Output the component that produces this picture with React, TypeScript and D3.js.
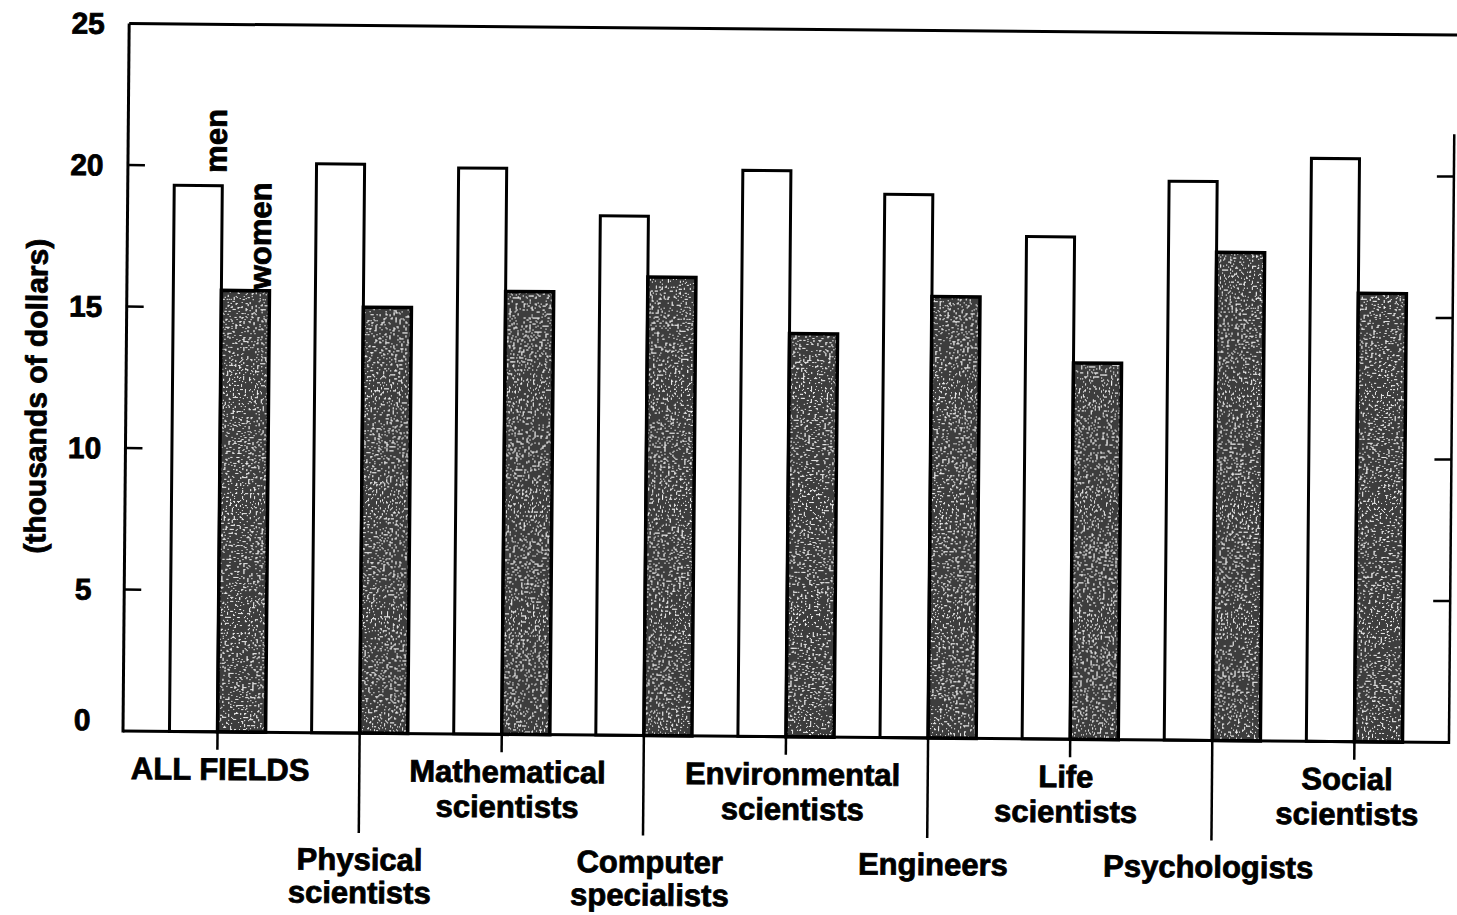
import React from "react";
import * as d3 from "d3";

const categories = [
  "ALL FIELDS",
  "Physical scientists",
  "Mathematical scientists",
  "Computer specialists",
  "Environmental scientists",
  "Engineers",
  "Life scientists",
  "Psychologists",
  "Social scientists",
];
const categoryLines = [
  ["ALL FIELDS"],
  ["Physical", "scientists"],
  ["Mathematical", "scientists"],
  ["Computer", "specialists"],
  ["Environmental", "scientists"],
  ["Engineers"],
  ["Life", "scientists"],
  ["Psychologists"],
  ["Social", "scientists"],
];
const series = ["men", "women"];
const menValues = [19.3, 20.1, 20.0, 18.35, 20.0, 19.2, 17.75, 19.75, 20.6];
const womenValues = [15.6, 15.05, 15.65, 16.2, 14.25, 15.6, 13.3, 17.25, 15.85];
const yTicks = [0, 5, 10, 15, 20, 25];
const yTitle = "(thousands of dollars)";

// small horizontal nudges of the category labels (layout only)
const labelNudge = [3, 1, 6, 7, 7, 6, -4, -3, -7];

const W = 1457;
const H = 915;
const FONT = "'Liberation Sans', Arial, Helvetica, sans-serif";

export default function App() {
  const left = 123;
  const right = 1449;
  const x0 = 731;
  const top = 23.5;

  const x = d3
    .scaleBand<string>()
    .domain(categories)
    .range([left, right])
    .paddingInner(0.3235)
    .paddingOuter(0.327);
  const xs = d3.scaleBand<string>().domain(series).range([0, x.bandwidth()]);
  const y = d3.scaleLinear().domain([0, 25]).range([x0, top]);

  const tickLen = 17;
  const txtStroke = { stroke: "#000", strokeWidth: 0.8 };
  const table = "0.05 0.05 0.05 0.05 0.05 0.05 0.75 0.95 1 1";

  return (
    <svg
      width={W}
      height={H}
      style={{ position: "absolute", left: 0, top: 0, background: "#fff" }}
      fontFamily={FONT}
      fontWeight="bold"
    >
      <defs>
        <filter id="speckle" x="0" y="0" width="1" height="1">
          <feTurbulence type="fractalNoise" baseFrequency="0.5" numOctaves="2" seed="7" result="n" />
          <feColorMatrix in="n" type="saturate" values="0" result="g" />
          <feComponentTransfer in="g" result="t">
            <feFuncR type="discrete" tableValues={table} />
            <feFuncG type="discrete" tableValues={table} />
            <feFuncB type="discrete" tableValues={table} />
            <feFuncA type="linear" slope="0" intercept="1" />
          </feComponentTransfer>
          <feComposite in="t" in2="SourceGraphic" operator="in" />
        </filter>
      </defs>
      <g transform={`rotate(0.5 ${left} ${x0})`}>
        {/* bars */}
        {categories.map((c, i) => {
          const gx = x(c)!;
          const mx = gx + xs("men")!;
          const wx = gx + xs("women")!;
          const bw = xs.bandwidth();
          return (
            <g key={c}>
              <rect
                x={mx}
                y={y(menValues[i])}
                width={bw}
                height={x0 - y(menValues[i])}
                fill="#fff"
                stroke="#000"
                strokeWidth={3}
              />
              <rect
                x={wx}
                y={y(womenValues[i])}
                width={bw}
                height={x0 - y(womenValues[i])}
                fill="#333"
                filter="url(#speckle)"
              />
              <rect
                x={wx}
                y={y(womenValues[i])}
                width={bw}
                height={x0 - y(womenValues[i])}
                fill="none"
                stroke="#000"
                strokeWidth={3.5}
              />
            </g>
          );
        })}

        {/* frame */}
        <line x1={left} x2={left} y1={x0 + 1.5} y2={top} stroke="#000" strokeWidth={3} />
        <line x1={left} x2={W + 20} y1={top} y2={top} stroke="#000" strokeWidth={3} />
        <line x1={left} x2={right} y1={x0} y2={x0} stroke="#000" strokeWidth={3} />
        <line x1={right} x2={right} y1={x0 + 1.5} y2={y(21.5)} stroke="#000" strokeWidth={2.5} />

        {/* ticks */}
        {yTicks
          .filter((t) => t > 0 && t < 25)
          .map((t) => (
            <g key={t}>
              <line x1={left} x2={left + tickLen} y1={y(t)} y2={y(t)} stroke="#000" strokeWidth={2.5} />
              <line x1={right - tickLen} x2={right} y1={y(t)} y2={y(t)} stroke="#000" strokeWidth={2.5} />
            </g>
          ))}
        {yTicks.map((t) => (
          <text
            key={t}
            x={82}
            y={t === 0 ? y(t) - 11 : y(t)}
            textAnchor="middle"
            dominantBaseline="central"
            fontSize={30}
            fill="#000"
            {...txtStroke}
          >
            {t}
          </text>
        ))}

        {/* y title */}
        <text
          transform={`translate(33 ${397}) rotate(-90)`}
          textAnchor="middle"
          dominantBaseline="central"
          fontSize={30}
          fill="#000"
          {...txtStroke}
        >
          {yTitle}
        </text>

        {/* legend labels */}
        <text
          transform={`translate(${x(categories[0])! + xs("men")! + xs.bandwidth() + 4} 172) rotate(-90)`}
          fontSize={31}
          fill="#000"
          {...txtStroke}
        >
          {series[0]}
        </text>
        <text
          transform={`translate(${x(categories[0])! + xs("women")! + xs.bandwidth() + 1} 288) rotate(-90)`}
          fontSize={31}
          fill="#000"
          {...txtStroke}
        >
          {series[1]}
        </text>

        {/* category labels */}
        {categories.map((c, i) => {
          const cx = x(c)! + xs.bandwidth();
          const lower = i % 2 === 1;
          const lineEnd = lower ? x0 + 100 : x0 + 18;
          const firstBase = lower ? 868 : 779;
          return (
            <g key={c}>
              <line x1={cx} x2={cx} y1={x0} y2={lineEnd} stroke="#000" strokeWidth={2.5} />
              {categoryLines[i].map((ln, k) => (
                <text
                  key={k}
                  x={cx + labelNudge[i]}
                  y={firstBase + k * (lower ? 33 : 35)}
                  textAnchor="middle"
                  fontSize={31}
                  fill="#000"
                  {...txtStroke}
                >
                  {ln}
                </text>
              ))}
            </g>
          );
        })}
      </g>
    </svg>
  );
}
